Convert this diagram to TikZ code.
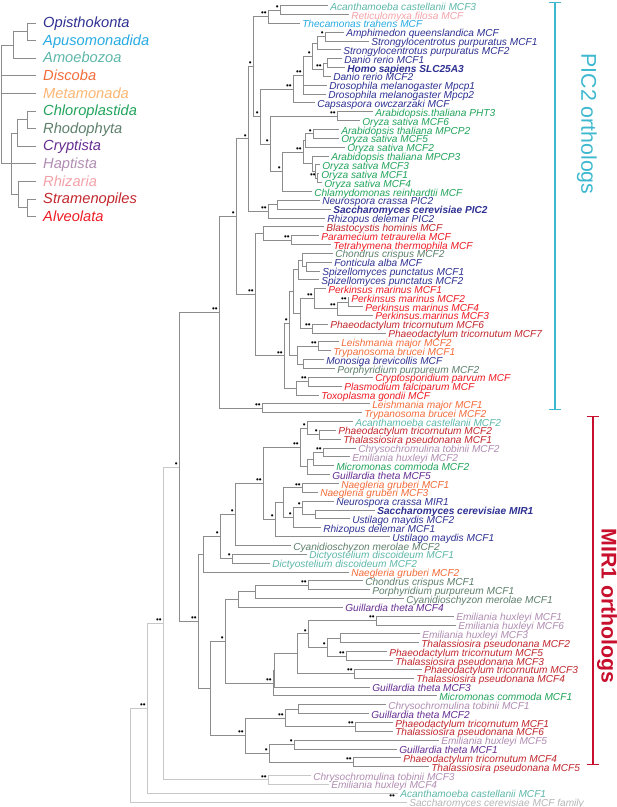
\documentclass[tikz,border=0pt]{standalone}
\usepackage{fontspec}
\setmainfont{Liberation Sans}
\usetikzlibrary{calc,arrows.meta}

\definecolor{opis}{HTML}{2E3192}
\definecolor{apus}{HTML}{27AAE1}
\definecolor{amoe}{HTML}{5DB7A9}
\definecolor{disc}{HTML}{F26C3A}
\definecolor{meta}{HTML}{FBB673}
\definecolor{chlo}{HTML}{21A35B}
\definecolor{rhod}{HTML}{5E7F6B}
\definecolor{cryp}{HTML}{662D91}
\definecolor{hapt}{HTML}{B08DB2}
\definecolor{rhiz}{HTML}{F3A1A9}
\definecolor{stra}{HTML}{C1272D}
\definecolor{alve}{HTML}{EE1C25}
\definecolor{outg}{HTML}{B5B5B5}
\definecolor{pictwo}{HTML}{3DB8CF}
\definecolor{mirone}{HTML}{C8102E}

\newcommand\yTop{5.5}
\newcommand\leafSep{8.85}
\newcommand\gTop{23}
\newcommand\gSep{17.6}
\newcommand\leaffont{\fontsize{7.6}{8}\selectfont\itshape}
\newcommand\grpfont{\fontsize{11}{12}\selectfont\itshape}

\tikzset{
  br/.style={draw=black!45, line width=0.6pt},
  brl/.style={draw=black!22, line width=0.6pt},
  leaf/.style={anchor=west, inner xsep=1.5pt, inner ysep=0pt, text height=0.7em, text depth=0pt, font=\leaffont},
  grp/.style={anchor=west, inner xsep=5.6pt, inner ysep=0pt, text height=0.7em, text depth=0pt, font=\grpfont},
  sup/.style={anchor=south east, inner sep=0.2pt, xshift=-0.6pt, yshift=0.2pt, font=\fontsize{6}{6}\selectfont},
  bracket/.style={line width=0.9pt, {Bar[width=9pt]}-{Bar[width=9pt]}}
}

% clade: [style]{name}{x}{first child}{last child}{support}
\newcommand\clade[6][br]{%
  \path let \p1=(#4), \p2=(#5) in coordinate (#2) at ({#3*0.75pt},{0.5*(\y1+\y2)});
  \draw[#1] (#2) |- (#4);
  \draw[#1] (#2) |- (#5);
  \if\relax\detokenize{#6}\relax\else\node[sup] (s#2) at (#2) {#6};\fi
}

\begin{document}
\begin{tikzpicture}[x=0.75pt,y=-0.75pt]
  \useasboundingbox (0,0) rectangle (617,807);

  % drawing the group legend
  \foreach \i/\col/\txt in {1/opis/Opisthokonta, 2/apus/Apusomonadida, 3/amoe/Amoebozoa,
      4/disc/Discoba, 5/meta/Metamonada, 6/chlo/Chloroplastida, 7/rhod/Rhodophyta,
      8/cryp/Cryptista, 9/hapt/Haptista, 10/rhiz/Rhizaria, 11/stra/Stramenopiles, 12/alve/Alveolata}{
    \node[grp, text=\col] (g\i) at (35.5, {\gTop+(\i-1)*\gSep}) {\txt};
  }
  \clade{k1}{27}{g1.west}{g2.west}{}
  \clade{k2}{13}{k1}{g3.west}{}
  \clade{k3}{27}{g6.west}{g7.west}{}
  \clade{k4}{17}{k3}{g8.west}{}
  \clade{k5}{27}{g11.west}{g12.west}{}
  \clade{k6}{18}{g10.west}{k5}{}
  \clade{k7}{11}{k4}{k6}{}
  \draw[br] (k7) |- (g9.west);
  \clade{k0}{1}{k2}{k7}{}
  \draw[br] (k0) |- (g4.west);
  \draw[br] (k0) |- (g5.west);

  % THE LEAVES
  \foreach \i/\xt/\col/\txt in {
      1/331/amoe/Acanthamoeba castellanii MCF3,
      2/352/rhiz/Reticulomyxa filosa MCF,
      3/303/apus/Thecamonas trahens MCF,
      4/347/opis/Amphimedon queenslandica MCF,
      5/372/opis/Strongylocentrotus purpuratus MCF1,
      6/344/opis/Strongylocentrotus purpuratus MCF2,
      7/345/opis/Danio rerio MCF1,
      8/348/opis/{\bfseries Homo sapiens SLC25A3},
      9/334/opis/Danio rerio MCF2,
      10/330/opis/Drosophila melanogaster Mpcp1,
      11/329/opis/Drosophila melanogaster Mpcp2,
      12/318/opis/Capsaspora owczarzaki MCF,
      13/376/chlo/Arabidopsis.thaliana PHT3,
      14/363/chlo/Oryza sativa MCF6,
      15/342/chlo/Arabidopsis thaliana MPCP2,
      16/342/chlo/Oryza sativa MCF5,
      17/348/chlo/Oryza sativa MCF2,
      18/332/chlo/Arabidopsis thaliana MPCP3,
      19/323/chlo/Oryza sativa MCF3,
      20/322/chlo/Oryza sativa MCF1,
      21/325/chlo/Oryza sativa MCF4,
      22/315/chlo/Chlamydomonas reinhardtii MCF,
      23/323/opis/Neurospora crassa PIC2,
      24/334/opis/{\bfseries Saccharomyces cerevisiae PIC2},
      25/328/opis/Rhizopus delemar PIC2,
      26/327/stra/Blastocystis hominis MCF,
      27/322/alve/Paramecium tetraurelia MCF,
      28/334/alve/Tetrahymena thermophila MCF,
      29/336/rhod/Chondrus crispus MCF2,
      30/335/opis/Fonticula alba MCF,
      31/323/opis/Spizellomyces punctatus MCF1,
      32/322/opis/Spizellomyces punctatus MCF2,
      33/329/alve/Perkinsus marinus MCF1,
      34/352/alve/Perkinsus marinus MCF2,
      35/366/alve/Perkinsus marinus MCF4,
      36/376/alve/Perkinsus.marinus MCF3,
      37/331/stra/Phaeodactylum tricornutum MCF6,
      38/389/stra/Phaeodactylum tricornutum MCF7,
      39/342/disc/Leishmania major MCF2,
      40/334/disc/Trypanosoma brucei MCF1,
      41/327/opis/Monosiga brevicollis MCF,
      42/338/rhod/Porphyridium purpureum MCF2,
      43/376/alve/Cryptosporidium parvum MCF,
      44/345/alve/Plasmodium falciparum MCF,
      45/322/alve/Toxoplasma gondii MCF,
      46/373/disc/Leishmania major MCF1,
      47/365/disc/Trypanosoma brucei MCF2,
      48/356/amoe/Acanthamoeba castellanii MCF2,
      49/339/stra/Phaeodactylum tricornutum MCF2,
      50/344/stra/Thalassiosira pseudonana MCF1,
      51/359/hapt/Chrysochromulina tobinii MCF2,
      52/353/hapt/Emiliania huxleyi MCF2,
      53/337/chlo/Micromonas commoda MCF2,
      54/333/cryp/Guillardia theta MCF5,
      55/342/disc/Naegleria gruberi MCF1,
      56/321/disc/Naegleria gruberi MCF3,
      57/337/opis/Neurospora crassa MIR1,
      58/378/opis/{\bfseries Saccharomyces cerevisiae MIR1},
      59/353/opis/Ustilago maydis MCF2,
      60/324/opis/Rhizopus delemar MCF1,
      61/393/opis/Ustilago maydis MCF1,
      62/294/rhod/Cyanidioschyzon merolae MCF2,
      63/310/amoe/Dictyostelium discoideum MCF1,
      64/273/amoe/Dictyostelium discoideum MCF2,
      65/352/disc/Naegleria gruberi MCF2,
      66/366/rhod/Chondrus crispus MCF1,
      67/373/rhod/Porphyridium purpureum MCF1,
      68/407/rhod/Cyanidioschyzon merolae MCF1,
      69/346/cryp/Guillardia theta MCF4,
      70/457/hapt/Emiliania huxleyi MCF1,
      71/459/hapt/Emiliania huxleyi MCF6,
      72/423/hapt/Emiliania huxleyi MCF3,
      73/422/stra/Thalassiosira pseudonana MCF2,
      74/390/stra/Phaeodactylum tricornutum MCF5,
      75/396/stra/Thalassiosira pseudonana MCF3,
      76/425/stra/Phaeodactylum tricornutum MCF3,
      77/417/stra/Thalassiosira pseudonana MCF4,
      78/373/cryp/Guillardia theta MCF3,
      79/440/chlo/Micromonas commoda MCF1,
      80/389/hapt/Chrysochromulina tobinii MCF1,
      81/372/cryp/Guillardia theta MCF2,
      82/396/stra/Phaeodactylum tricornutum MCF1,
      83/396/stra/Thalassiosira pseudonana MCF6,
      84/442/hapt/Emiliania huxleyi MCF5,
      85/400/cryp/Guillardia theta MCF1,
      86/404/stra/Phaeodactylum tricornutum MCF4,
      87/432/stra/Thalassiosira pseudonana MCF5,
      88/314/hapt/Chrysochromulina tobinii MCF3,
      89/332/hapt/Emiliania huxleyi MCF4,
      90/401/amoe/Acanthamoeba castellanii MCF1,
      91/410/outg/Saccharomyces cerevisiae MCF family}{
    \node[leaf, text=\col] (l\i) at (\xt-3, {\yTop+(\i-1)*\leafSep}) {\txt};
  }

  % PIC2 ORTHOLOGS
  \clade{cAr}{280}{l1.west}{l2.west}{•}
  \clade{cAm}{268}{cAr}{l3.west}{••}
  \clade{cSp}{325}{l4.west}{l5.west}{•}
  \clade{cSq}{317}{cSp}{l6.west}{}
  \clade{cDr}{327}{l7.west}{l8.west}{}
  \clade{cVe}{323}{cDr}{l9.west}{••}
  \clade{cMe}{312}{cSq}{cVe}{•}
  \clade{cIn}{303}{cMe}{l11.west}{••}
  \draw[br] (cIn) |- (l10.west);
  \clade{cOp}{293}{cIn}{l12.west}{••}
  \clade{cPh}{337}{l13.west}{l14.west}{••}
  \clade{cPa}{313}{l15.west}{l16.west}{•}
  \clade{cPb}{305}{cPa}{l17.west}{}
  \clade{cPc}{317}{l20.west}{l21.west}{••}
  \clade{cPd}{315}{l19.west}{cPc}{}
  \clade{cPe}{312}{l18.west}{cPd}{}
  \clade{cPf}{303}{cPb}{cPe}{••}
  \clade{cPg}{282}{cPf}{l22.west}{•}
  \clade{cPl}{270}{cPh}{cPg}{•}
  \clade{cOpPl}{260}{cOp}{cPl}{•}
  \clade{cAmo}{253}{cAm}{cOpPl}{•}
  \clade{cFa}{277}{l23.west}{l24.west}{}
  \clade{cFb}{268}{cFa}{l25.west}{••}
  \clade{cUp}{248}{cAmo}{cFb}{•}
  \clade{cCi}{291}{l27.west}{l28.west}{••}
  \clade{cBl}{263}{l26.west}{cCi}{}
  \clade{cFo}{306}{l30.west}{l31.west}{}
  \clade{cCh}{302}{l29.west}{cFo}{}
  \clade{cSz}{298}{cCh}{l32.west}{}
  \clade{cKa}{348}{l34.west}{l35.west}{••}
  \clade{cKb}{337}{cKa}{l36.west}{••}
  \clade{cKc}{314}{l33.west}{cKb}{••}
  \clade{cKd}{312}{l37.west}{l38.west}{••}
  \clade{cKe}{300}{cKc}{cKd}{}
  \clade{cKf}{293}{cSz}{cKe}{}
  \clade{cTa}{318}{l39.west}{l40.west}{••}
  \clade{cTb}{303}{l41.west}{l42.west}{}
  \clade{cTc}{297}{cTa}{cTb}{}
  \clade{cMid}{289}{cKf}{cTc}{•}
  \clade{cApa}{308}{l43.west}{l44.west}{••}
  \clade{cApb}{296}{cApa}{l45.west}{}
  \clade{cLow}{284}{cMid}{cApb}{••}
  \clade{cSar}{255}{cBl}{cLow}{••}
  \clade{cCore}{236}{cUp}{cSar}{•}
  \clade{cKin}{262}{l46.west}{l47.west}{••}
  \clade{cPIC}{219}{cCore}{cKin}{••}

  % MIR1 ORTHOLOGS
  \clade{mDa}{319}{l49.west}{l50.west}{•}
  \clade{mDb}{307}{l48.west}{mDa}{•}
  \clade{mHa}{323}{l51.west}{l52.west}{••}
  \clade{mHb}{313}{mHa}{l53.west}{}
  \clade{mHc}{307}{mHb}{l54.west}{}
  \clade{mHd}{300}{mDb}{mHc}{••}
  \clade{mNa}{302}{l55.west}{l56.west}{••}
  \clade{mGa}{315}{l58.west}{l59.west}{}
  \clade{mGb}{302}{l57.west}{mGa}{•}
  \clade{mGc}{293}{mGb}{l60.west}{•}
  \clade{mNb}{283}{mNa}{mGc}{}
  \clade{mNc}{275}{mNb}{l61.west}{•}
  \clade{mHe}{263}{mHd}{mNc}{••}
  \clade{mHf}{235}{mHe}{l62.west}{•}
  \clade{mDi}{232}{l63.west}{l64.west}{•}
  \clade{mHg}{220}{mHf}{mDi}{•}
  \clade{mHh}{203}{mHg}{l65.west}{}
  \clade{mRa}{308}{l66.west}{l67.west}{••}
  \clade{mRb}{255}{mRa}{l68.west}{}
  \clade{mRc}{238}{mRb}{l69.west}{}
  \clade{mEa}{376}{l70.west}{l71.west}{••}
  \clade{mEb}{340}{l72.west}{l73.west}{}
  \clade{mEc}{346}{l74.west}{l75.west}{••}
  \clade{mEd}{327}{mEb}{mEc}{•}
  \clade{mEe}{308}{mEa}{mEd}{•}
  \clade{mEf}{354}{l76.west}{l77.west}{••}
  \clade{mSa}{297}{mEe}{mEf}{}
  \clade{mSb}{274}{mSa}{l78.west}{}
  \clade{mSc}{273}{mSb}{l79.west}{••}
  \clade{mRtop}{225}{mRc}{mSc}{•}
  \clade{mTa}{298}{l80.west}{l81.west}{}
  \clade{mTb}{355}{l82.west}{l83.west}{••}
  \clade{mTc}{285}{mTa}{mTb}{••}
  \clade{mTd}{294}{l84.west}{l85.west}{•}
  \clade{mTe}{353}{l86.west}{l87.west}{••}
  \clade{mTf}{269}{mTd}{mTe}{•}
  \clade{mRbot}{245}{mTc}{mTf}{••}
  \clade{mRed}{210}{mRtop}{mRbot}{}
  \clade{cMIR}{198}{mHh}{mRed}{••}

  % OUTER BRANCHES
  \clade{cBoth}{179}{cPIC}{cMIR}{•}
  \clade[brl]{oHa}{268}{l88.west}{l89.west}{••}
  \clade[brl]{oA}{163}{cBoth}{oHa}{••}
  \clade[brl]{oB}{147}{oA}{l90.west}{••}
  \clade[brl]{oRoot}{130}{oB}{l91.west}{}
  \node[sup, anchor=center] (sRoot) at (393,797) {••};

  % the two ortholog brackets
  \coordinate (picTop) at (555,1.5);
  \coordinate (picBot) at (555,410);
  \draw[bracket, pictwo] (picTop) -- (picBot);
  \node[pictwo, rotate=-90, font=\fontsize{16}{16}\selectfont] (picText) at (587,124) {PIC2 orthologs};
  \coordinate (mirTop) at (593,416);
  \coordinate (mirBot) at (593,765);
  \draw[bracket, mirone] (mirTop) -- (mirBot);
  \node[mirone, rotate=-90, font=\fontsize{16}{16}\selectfont\bfseries] (mirText) at (607,606) {MIR1 orthologs};
\end{tikzpicture}
\end{document}
